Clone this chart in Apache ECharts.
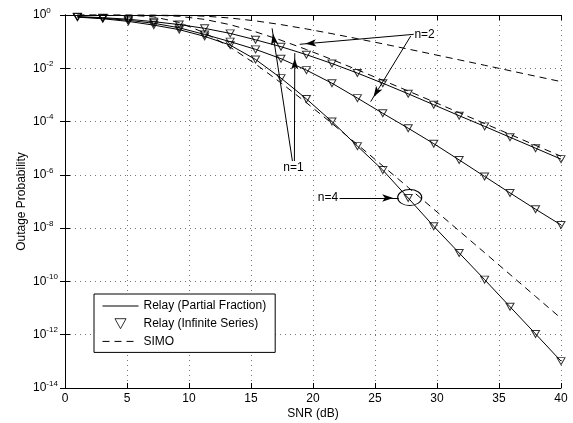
<!DOCTYPE html>
<html>
<head>
<meta charset="utf-8">
<script src="https://cdn.jsdelivr.net/npm/echarts@6/dist/echarts.min.js"></script>
<style>html,body{margin:0;padding:0;background:#fff;}#c{width:573px;height:423px;}</style>
</head>
<body>
<div id="c"></div>
<script>
// ---- data ----
const snr = [1, 3.05, 5.11, 7.16, 9.21, 11.26, 13.32, 15.37, 17.42, 19.47, 21.53, 23.58, 25.63, 27.68, 29.74, 31.79, 33.84, 35.89, 37.95, 40];

const relayN1 = [0.871, 0.794, 0.692, 0.562, 0.437, 0.316, 0.204, 0.117, 0.0646, 0.0324, 0.0151, 6.61e-3, 2.75e-3, 1.10e-3, 4.27e-4, 1.66e-4, 6.61e-5, 2.57e-5, 1.0e-5, 3.89e-6];
const relayN2 = [0.851, 0.759, 0.631, 0.490, 0.331, 0.186, 0.100, 0.0513, 0.0229, 8.51e-3, 2.75e-3, 7.59e-4, 2.04e-4, 5.62e-5, 1.48e-5, 3.63e-6, 8.71e-7, 2.09e-7, 5.13e-8, 1.32e-8];
const relayN4 = [0.832, 0.724, 0.575, 0.417, 0.282, 0.158, 0.0741, 0.0214, 4.27e-3, 7.08e-4, 1.0e-4, 1.20e-5, 1.51e-6, 1.35e-7, 1.17e-8, 1.17e-9, 1.17e-10, 1.12e-11, 1.07e-12, 1.02e-13];

const simoN1 = [1.0, 1.0, 1.0, 0.998, 0.977, 0.906, 0.770, 0.601, 0.436, 0.300, 0.199, 0.129, 0.0828, 0.0525, 0.0330, 0.0207, 0.0130, 8.11e-3, 5.05e-3, 3.16e-3];
const simoN2 = [1.0, 1.0, 0.9994, 0.984, 0.892, 0.684, 0.432, 0.234, 0.113, 0.0506, 0.0213, 8.76e-3, 3.53e-3, 1.40e-3, 5.50e-4, 2.16e-4, 8.44e-5, 3.30e-5, 1.28e-5, 4.99e-6];
const simoN4 = [1.0, 1.0, 0.9875, 0.856, 0.525, 0.214, 0.0621, 0.0144, 2.83e-3, 5.09e-4, 8.50e-5, 1.38e-5, 2.17e-6, 3.37e-7, 5.14e-8, 7.86e-9, 1.20e-9, 1.82e-10, 2.73e-11, 4.14e-12];

const legendNames = ['Relay (Partial Fraction)', 'Relay (Infinite Series)', 'SIMO'];
const xLabel = 'SNR (dB)';
const yLabel = 'Outage Probability';

// annotation arrows: [from, to] in data coordinates (SNR dB, probability)
const arrowLines = [
  [[18.34, 3.3e-6], [16.70, 0.316]],
  [[18.50, 3.3e-6], [18.53, 0.0372]],
  [[28.12, 0.188], [18.93, 0.0794]],
  [[27.88, 0.162], [24.65, 5.6e-4]],
  [[22.14, 1.35e-7], [26.91, 1.35e-7]]
];
const annoTexts = [
  ['n=1', 18.42, 1.8e-6],
  ['n=2', 29.0, 0.178],
  ['n=4', 21.21, 1.35e-7]
];
const circleAt = [27.80, 1.41e-7];

// ---- chart ----
const FONT = "'Liberation Sans', Arial, Helvetica, sans-serif";
const pairs = ys => snr.map((x, i) => [x, ys[i]]);

const lineSeries = (name, ys, dashed) => ({
  type: 'line', name: name, data: pairs(ys), symbol: 'none', xAxisIndex: 0, yAxisIndex: 0,
  lineStyle: { color: '#000', width: 1, type: dashed ? [7, 5] : 'solid' },
  itemStyle: { color: '#000' }, z: 2
});
const markerSeries = (ys) => ({
  type: 'scatter', name: legendNames[1], data: pairs(ys), symbol: 'triangle', symbolRotate: 180,
  symbolSize: [8, 7], clip: false, xAxisIndex: 0, yAxisIndex: 0,
  itemStyle: { color: 'rgba(0,0,0,0)', borderColor: '#000', borderWidth: 1 }, z: 3
});

const ellipsePath = 'path://M0,8 C0,3.6 5.4,0 12,0 C18.6,0 24,3.6 24,8 C24,12.4 18.6,16 12,16 C5.4,16 0,12.4 0,8 Z';

const simo1 = lineSeries(legendNames[2], simoN1, true);
simo1.markLine = {
  silent: true, animation: false,
  symbol: 'none', symbolSize: 10,
  lineStyle: { color: '#000', width: 1, type: 'solid' },
  label: { show: false },
  data: arrowLines.map(a => [
    { coord: a[0], symbol: 'none' },
    { coord: a[1], symbol: 'arrow', symbolSize: [5.5, 11], symbolOffset: [0, '50%'] }
  ])
};
simo1.markPoint = {
  silent: true, animation: false,
  data: annoTexts.map(t => ({
    coord: [t[1], t[2]], symbol: 'rect', symbolSize: 1,
    itemStyle: { color: 'rgba(0,0,0,0)' },
    label: { show: true, position: 'inside', formatter: t[0], color: '#000', fontSize: 12, fontFamily: FONT }
  })).concat([{
    coord: circleAt, symbol: ellipsePath, symbolSize: [24, 16], symbolKeepAspect: false,
    itemStyle: { color: 'rgba(0,0,0,0)', borderColor: '#000', borderWidth: 1 },
    label: { show: false }
  }])
};

const hiddenSym = { color: 'rgba(0,0,0,0)', borderColor: 'rgba(0,0,0,0)', borderWidth: 0, opacity: 0 };

const chart = echarts.init(document.getElementById('c'), null, { renderer: 'canvas' });
chart.setOption({
  animation: false,
  backgroundColor: '#fff',
  textStyle: { fontFamily: FONT, color: '#000' },
  grid: { left: 65, right: 12, top: 15, bottom: 35, containLabel: false, outerBoundsMode: 'none' },
  legend: {
    left: 94, top: 294, orient: 'vertical',
    backgroundColor: '#fff', borderColor: '#000', borderWidth: 1, borderRadius: 0,
    padding: [6, 9, 5, 8], itemWidth: 36, itemHeight: 10, itemGap: 5.7,
    lineStyle: { width: 1 },
    textStyle: { fontSize: 12, color: '#000', fontFamily: FONT, lineHeight: 12 },
    data: [
      { name: legendNames[0], itemStyle: hiddenSym },
      { name: legendNames[1], icon: 'path://M0,0L10,0L5,9Z', itemStyle: { color: 'rgba(0,0,0,0)', borderColor: '#000', borderWidth: 1 } },
      { name: legendNames[2], itemStyle: hiddenSym }
    ],
    selectedMode: false
  },
  xAxis: [{
    type: 'value', min: 0, max: 40, interval: 5, position: 'bottom',
    name: xLabel, nameLocation: 'middle', nameGap: 20, nameMoveOverlap: false,
    nameTextStyle: { fontSize: 12, color: '#000', fontFamily: FONT },
    axisLine: { lineStyle: { color: '#000', width: 1 } },
    axisTick: { inside: true, length: 5, lineStyle: { color: '#000' } },
    axisLabel: { fontSize: 12, color: '#000', margin: 5, fontFamily: FONT },
    splitLine: { show: true, lineStyle: { color: '#777', type: [1, 4], width: 1 } }
  }, {
    type: 'value', min: 0, max: 40, interval: 5, position: 'top',
    axisLine: { lineStyle: { color: '#000', width: 1 } },
    axisTick: { inside: true, length: 5, lineStyle: { color: '#000' } },
    axisLabel: { show: false }, splitLine: { show: false }
  }],
  yAxis: [{
    type: 'log', logBase: 10, min: 1e-14, max: 1, interval: 2, position: 'left',
    name: yLabel, nameLocation: 'middle', nameGap: 37, nameMoveOverlap: false,
    nameTextStyle: { fontSize: 12, color: '#000', fontFamily: FONT },
    axisLine: { lineStyle: { color: '#000', width: 1 } },
    axisTick: { inside: true, length: 5, lineStyle: { color: '#000' } },
    minorTick: { show: false },
    axisLabel: {
      align: 'left', margin: 32, color: '#000', showMinLabel: true, showMaxLabel: true,
      formatter: function (v) {
        const e = Math.round(Math.log10(v));
        return '{b|10}{s|' + e + '}';
      },
      rich: {
        b: { fontSize: 12, lineHeight: 12, verticalAlign: 'middle', fontFamily: FONT, color: '#000' },
        s: { fontSize: 8, lineHeight: 12, padding: [0, 0, 9, 0], verticalAlign: 'middle', fontFamily: FONT, color: '#000' }
      }
    },
    splitLine: { show: true, lineStyle: { color: '#777', type: [1, 4], width: 1 } }
  }, {
    type: 'log', logBase: 10, min: 1e-14, max: 1, interval: 2, position: 'right',
    axisLine: { lineStyle: { color: '#000', width: 1 } },
    axisTick: { inside: true, length: 5, lineStyle: { color: '#000' } },
    axisLabel: { show: false }, splitLine: { show: false }
  }],
  series: [
    lineSeries(legendNames[0], relayN1, false),
    lineSeries(legendNames[0], relayN2, false),
    lineSeries(legendNames[0], relayN4, false),
    markerSeries(relayN1),
    markerSeries(relayN2),
    markerSeries(relayN4),
    simo1,
    lineSeries(legendNames[2], simoN2, true),
    lineSeries(legendNames[2], simoN4, true)
  ]
});
</script>
</body>
</html>
